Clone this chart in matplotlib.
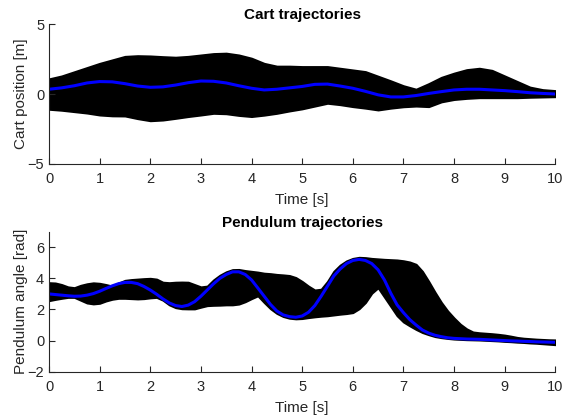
import numpy as np
import matplotlib
matplotlib.use("Agg")
import matplotlib.pyplot as plt

plt.rcParams['font.family'] = ['Liberation Sans', 'DejaVu Sans']

# time grids (s)
t_cart = np.linspace(0, 10, 41)
t_pend = np.linspace(0, 10, 81)

cart_upper = [1.09, 1.3, 1.6, 1.9, 2.2, 2.45, 2.7, 2.75, 2.73, 2.68, 2.64, 2.7, 2.8, 2.9, 2.93,
              2.8, 2.57, 2.2, 2.0, 2.0, 1.97, 1.97, 1.97, 1.85, 1.73, 1.61, 1.28, 0.95, 0.6, 0.35,
              0.75, 1.2, 1.5, 1.75, 1.85, 1.7, 1.3, 0.9, 0.5, 0.32, 0.25]
cart_lower = [-1.08, -1.15, -1.25, -1.35, -1.49, -1.55, -1.56, -1.75, -1.9, -1.85, -1.73, -1.6,
              -1.49, -1.37, -1.4, -1.52, -1.6, -1.5, -1.37, -1.2, -1.05, -0.85, -0.65, -0.75,
              -0.89, -1.0, -1.13, -1.0, -0.9, -0.85, -0.89, -0.55, -0.38, -0.3, -0.25, -0.25,
              -0.25, -0.25, -0.22, -0.2, -0.18]
cart_mean = [0.35, 0.45, 0.6, 0.8, 0.9, 0.88, 0.75, 0.58, 0.49, 0.52, 0.65, 0.82, 0.94, 0.92, 0.8,
             0.6, 0.42, 0.3, 0.35, 0.45, 0.55, 0.7, 0.72, 0.58, 0.42, 0.2, -0.05, -0.2, -0.2, -0.1,
             0.05, 0.18, 0.3, 0.35, 0.35, 0.3, 0.25, 0.18, 0.1, 0.05, 0.01]

pend_upper = [3.72, 3.7, 3.6, 3.45, 3.4, 3.55, 3.65, 3.71, 3.68, 3.6, 3.5, 3.7, 3.87, 3.92, 3.95,
              3.98, 4.0, 3.95, 3.75, 3.72, 3.75, 3.76, 3.75, 3.6, 3.45, 3.5, 3.9, 4.2, 4.42, 4.56,
              4.57, 4.5, 4.45, 4.4, 4.33, 4.3, 4.25, 4.22, 4.18, 4.05, 3.8, 3.5, 3.25, 3.3, 3.8,
              4.45, 4.85, 5.12, 5.28, 5.35, 5.33, 5.28, 5.25, 5.22, 5.2, 5.18, 5.13, 5.05, 4.9,
              4.45, 3.8, 3.1, 2.45, 1.9, 1.45, 1.05, 0.75, 0.55, 0.5, 0.47, 0.44, 0.4, 0.35, 0.28,
              0.2, 0.15, 0.12, 0.09, 0.07, 0.05, 0.04]
pend_lower = [2.57, 2.65, 2.72, 2.78, 2.78, 2.6, 2.42, 2.36, 2.4, 2.55, 2.66, 2.72, 2.72, 2.7,
              2.68, 2.7, 2.75, 2.78, 2.6, 2.3, 2.12, 2.05, 2.04, 2.04, 2.15, 2.25, 2.27, 2.28, 2.3,
              2.3, 2.35, 2.5, 2.7, 2.88, 2.45, 2.05, 1.75, 1.55, 1.44, 1.4, 1.42, 1.48, 1.53, 1.57,
              1.6, 1.65, 1.7, 1.74, 1.8, 2.05, 2.45, 3.05, 3.4, 2.8, 2.2, 1.6, 1.2, 0.95, 0.72,
              0.52, 0.38, 0.26, 0.19, 0.14, 0.1, 0.08, 0.06, 0.05, 0.04, 0.02, 0.0, -0.02, -0.05,
              -0.07, -0.1, -0.12, -0.15, -0.17, -0.2, -0.23, -0.26]
pend_mean = [3.0, 2.96, 2.92, 2.88, 2.85, 2.86, 2.92, 3.02, 3.17, 3.35, 3.52, 3.66, 3.74, 3.74,
             3.66, 3.48, 3.25, 2.98, 2.68, 2.42, 2.25, 2.19, 2.28, 2.5, 2.85, 3.25, 3.65, 4.0, 4.25,
             4.42, 4.42, 4.25, 3.9, 3.38, 2.85, 2.32, 1.9, 1.65, 1.54, 1.5, 1.58, 1.82, 2.25, 2.85,
             3.5, 4.15, 4.6, 4.95, 5.15, 5.22, 5.15, 4.95, 4.55, 3.9, 3.05, 2.3, 1.8, 1.35, 1.0,
             0.68, 0.48, 0.34, 0.25, 0.18, 0.14, 0.12, 0.1, 0.09, 0.08, 0.06, 0.04, 0.02, 0.0,
             -0.02, -0.03, -0.05, -0.06, -0.08, -0.09, -0.1, -0.11]

x_ticks = list(range(0, 11))
cart_yticks = [-5, 0, 5]
pend_yticks = [-2, 0, 2, 4, 6]

fig = plt.figure(figsize=(5.74, 4.18), dpi=100)
ax1 = fig.add_axes([0.0854, 0.6077, 0.882, 0.3342])
ax2 = fig.add_axes([0.0854, 0.1108, 0.882, 0.3349])

gray = '#262626'

def style(ax):
    for s in ['top', 'right']:
        ax.spines[s].set_visible(False)
    for s in ['left', 'bottom']:
        ax.spines[s].set_color(gray)
        ax.spines[s].set_linewidth(0.8)
    ax.tick_params(direction='in', length=4, width=0.8, colors=gray, labelsize=10.5)
    ax.tick_params(axis='x', pad=5.8)

ax1.fill_between(t_cart, cart_lower, cart_upper, color='black', lw=1.5, edgecolor='black')
ax1.plot(t_cart, cart_mean, color=(0, 0, 1), lw=2.2)
ax1.set_xlim(0, 10)
ax1.set_ylim(-5, 5)
ax1.set_xticks(x_ticks)
ax1.set_yticks(cart_yticks)
ax1.set_xlabel('Time [s]', fontsize=11, color=gray, labelpad=5)
ax1.set_ylabel('Cart position [m]', fontsize=11, color=gray, labelpad=-0.5)
ax1.set_title('Cart trajectories', fontsize=11, fontweight='bold', pad=3.5)
style(ax1)

ax2.fill_between(t_pend, pend_lower, pend_upper, color='black', lw=1.5, edgecolor='black')
ax2.plot(t_pend, pend_mean, color=(0, 0, 1), lw=2.2)
ax2.set_xlim(0, 10)
ax2.set_ylim(-2, 7)
ax2.set_xticks(x_ticks)
ax2.set_yticks(pend_yticks)
ax2.set_xlabel('Time [s]', fontsize=11, color=gray, labelpad=5)
ax2.set_ylabel('Pendulum angle [rad]', fontsize=11, color=gray, labelpad=-0.5)
ax2.set_title('Pendulum trajectories', fontsize=11, fontweight='bold', pad=3.5)
style(ax2)

fig.savefig('out.png', dpi=100)
